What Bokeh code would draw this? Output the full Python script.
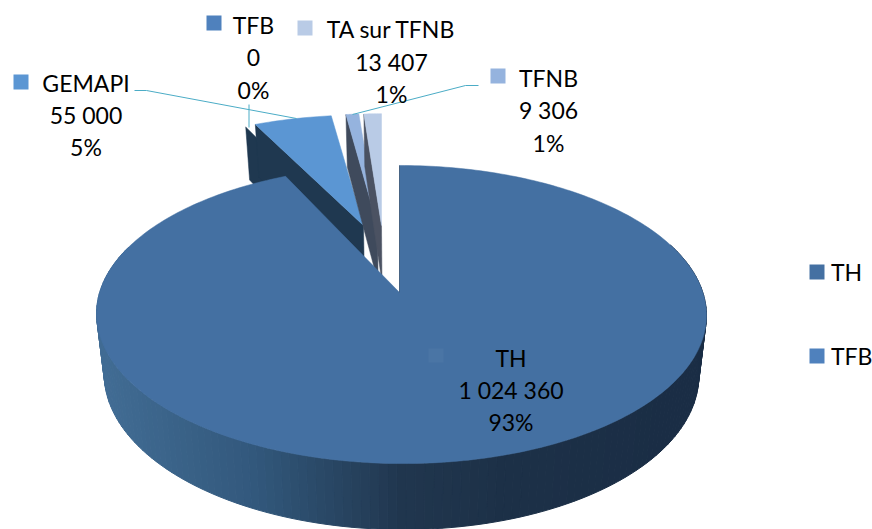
import numpy as np
from bokeh.embed import file_html
from bokeh.models import Range1d
from bokeh.plotting import figure
from bokeh.resources import INLINE
from bokeh.core.properties import value

# ---- data
categories = ["TH", "TFB", "GEMAPI", "TFNB", "TA sur TFNB"]
values = [1024360, 0, 55000, 9306, 13407]
legend_names = ["TH", "TFB"]

total = sum(values)
def fmt(v):
    return f"{v:,}".replace(",", " ")
def pct(v):
    return f"{round(100 * v / total)}%"
starts = np.cumsum([0] + values[:-1]) / total * 360
ends = np.cumsum(values) / total * 360

# ---- styles / layout
top_col = {"TH": "#4470a2", "TFB": "#4f81bd", "GEMAPI": "#5b96d3", "TFNB": "#95b3de", "TA sur TFNB": "#b9cbe6"}
wall_col = {"TFB": "#1f3850", "GEMAPI": "#1f3850", "TFNB": "#3f4a5c", "TA sur TFNB": "#4b5262"}
apex = {"TH": (399, 292), "TFB": (350, 231), "GEMAPI": (363, 225), "TFNB": (377, 225), "TA sur TFNB": (381, 225)}
scale_x = {"TH": 1.0, "TFB": 0.92, "GEMAPI": 0.95, "TFNB": 0.93, "TA sur TFNB": 0.88}
scale_y = {"TH": 1.0, "TFB": 0.9, "GEMAPI": 0.87, "TFNB": 0.88, "TA sur TFNB": 0.88}
A, B, P = 301.6, 145.8, 0.1477
SKEW = 1.75
FONT = value("Lato")
FS = value("23px")
TEAL = "#4bacc6"

def rim(name, deg):
    t = np.radians(deg)
    u, v = np.sin(t), np.cos(t)
    d = 1 + P * v
    ax, ay = apex[name]
    return ax + scale_x[name] * (A * u / d + SKEW * (1 - v)), ay - scale_y[name] * B * v / d

def lower(x, y):
    return 401 + (np.asarray(x) - 401) * 0.975, np.asarray(y) + 53 + (np.asarray(y) - 125) * 0.0385

p = figure(width=872, height=529, output_backend="svg", toolbar_location=None,
           x_range=Range1d(0, 872), y_range=Range1d(529, 0),
           min_border=0, background_fill_color="white", border_fill_color="white")
p.axis.visible = False
p.grid.visible = False
p.outline_line_color = None

i_th = categories.index("TH")

# back slices: walls then top faces
for name in ["TFB", "GEMAPI", "TFNB", "TA sur TFNB"]:
    i = categories.index(name)
    cx, cy = rim(name, starts[i])
    ax, ay = apex[name]
    lcx, lcy = lower(cx, cy)
    lax, lay = lower(ax, ay)
    p.patch([cx, ax, lax, lcx], [cy, ay, lay, lcy], fill_color=wall_col[name], line_color=wall_col[name], line_width=0.5)
    if values[i] > 0:
        ths = np.linspace(starts[i], ends[i], 12)
        xs, ys = rim(name, ths)
        p.patch([ax, *xs], [ay, *ys], fill_color=top_col[name], line_color=top_col[name], line_width=0.5)

# big slice: outer wall as shaded strips, then top face
ths = np.arange(70, 290, 1.5)
sx, sy = rim("TH", ths)
lx, ly = lower(sx, sy)
stops_x = [96, 250, 400, 500, 706]
stops_rgb = np.array([[0x42, 0x6d, 0x95], [0x33, 0x59, 0x7d], [0x21, 0x37, 0x4f], [0x1d, 0x31, 0x48], [0x1a, 0x2d, 0x45]])
qx, qy, qc = [], [], []
for k in range(len(ths) - 1):
    qx.append([sx[k], sx[k + 1], lx[k + 1], lx[k]])
    qy.append([sy[k], sy[k + 1], ly[k + 1], ly[k]])
    mid = (sx[k] + sx[k + 1]) / 2
    rgb = [int(np.interp(mid, stops_x, stops_rgb[:, c])) for c in range(3)]
    qc.append("#%02x%02x%02x" % tuple(rgb))
p.patches(qx, qy, fill_color=qc, line_color=qc, line_width=1)

ths = np.linspace(starts[i_th], ends[i_th], 300)
xs, ys = rim("TH", ths)
ax, ay = apex["TH"]
p.patch([ax, *xs], [ay, *ys], fill_color=top_col["TH"], line_color=top_col["TH"], line_width=0.5)
p.line([xs[0], ax], [ys[0], ay], line_color="#2a4560", line_width=1, line_alpha=0.6)

# leader lines
p.line([134, 146, 296], [90, 90, 118], line_color=TEAL, line_width=1)
p.line([248.5, 248.5], [104, 127], line_color=TEAL, line_width=1)
p.line([478, 465, 352], [85, 85, 114], line_color=TEAL, line_width=1)

# labels
def key(x, y, col):
    p.quad(left=[x], right=[x + 15], top=[y], bottom=[y + 15], fill_color=col, line_color=None)

def label(name, x, y0, step, key_xy):
    i = categories.index(name)
    lines = [name, fmt(values[i]), pct(values[i])]
    p.text([x] * 3, [y0, y0 + step, y0 + 2 * step], text=lines, text_font=FONT, text_font_size=FS,
           text_color="#000000", text_align="center", text_baseline="middle")
    key(*key_xy, top_col[name])

label("GEMAPI", 85.5, 82.5, 32, (13, 74))
label("TFB", 253, 24, 32.5, (206, 15))
label("TA sur TFNB", 391, 28.5, 32.5, (297, 20))
label("TFNB", 548, 77, 32.5, (490, 68))
label("TH", 510.5, 357.5, 32, (428, 348))
# the key of the big slice sits on its own colour
p.quad(left=[428], right=[443], top=[348], bottom=[362], fill_color="#4a75a5", line_color=None)

# legend
for name, ky in zip(legend_names, [264, 348]):
    key(809, ky, top_col[name])
    p.text([830.5], [ky + 7], text=[name], text_font=FONT, text_font_size=FS, text_color="#000000",
           text_align="left", text_baseline="middle")

open("out.html", "w").write(file_html(p, INLINE))
